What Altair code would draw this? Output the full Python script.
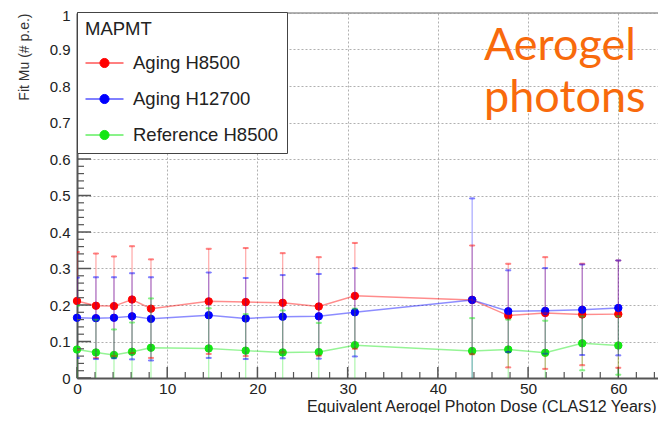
import altair as alt
import pandas as pd

# ---- data ----
dose = [0, 2.1, 4.1, 6.1, 8.2, 14.6, 18.7, 22.8, 26.8, 30.8, 43.8, 47.8, 51.9, 56.0, 60.0]

red_mu = [0.211, 0.198, 0.197, 0.215, 0.190, 0.210, 0.208, 0.206, 0.196, 0.225, 0.214, 0.171, 0.178, 0.174, 0.175]
red_err = [0.134, 0.143, 0.136, 0.146, 0.135, 0.144, 0.148, 0.136, 0.135, 0.145, 0.149, 0.142, 0.153, 0.139, 0.147]

blue_mu = [0.165, 0.164, 0.165, 0.169, 0.162, 0.172, 0.163, 0.168, 0.169, 0.180, 0.214, 0.183, 0.184, 0.187, 0.192]
blue_err = [0.110, 0.112, 0.111, 0.118, 0.114, 0.117, 0.111, 0.114, 0.116, 0.121, 0.278, 0.112, 0.117, 0.124, 0.130]

green_mu = [0.078, 0.070, 0.063, 0.072, 0.083, 0.081, 0.075, 0.070, 0.071, 0.090, 0.074, 0.078, 0.069, 0.095, 0.089]
green_err = [0.120, 0.090, 0.070, 0.080, 0.135, 0.110, 0.100, 0.115, 0.080, 0.100, 0.090, 0.082, 0.088, 0.074, 0.080]

series_names = ["Aging H8500", "Aging H12700", "Reference H8500"]
series_colors = ["#ff0000", "#0000ff", "#14e614"]

x_ticks = [0, 10, 20, 30, 40, 50, 60]
y_ticks = [0, 0.1, 0.2, 0.3, 0.4, 0.5, 0.6, 0.7, 0.8, 0.9, 1.0]
x_minor = [v for v in range(0, 66, 2) if v % 10 != 0]
y_minor = [round(i * 0.02, 2) for i in range(51) if i % 5 != 0]

legend_title = "MAPMT"
x_title = "Equivalent Aerogel Photon Dose (CLAS12 Years)"
y_title = "Fit Mu (# p.e.)"
note_lines = ["Aerogel", "photons"]

# ---- table ----
rows = []
for name, mus, errs in zip(series_names, [red_mu, blue_mu, green_mu], [red_err, blue_err, green_err]):
    for d, m, e in zip(dose, mus, errs):
        rows.append({"series": name, "dose": d, "mu": m, "lo": m - e, "hi": m + e})
df = pd.DataFrame(rows)

FONT = "Liberation Sans"
X_DOMAIN = [0, 64.4]
Y_DOMAIN = [0, 1]
PLOT_H = 365

xs = alt.Scale(domain=X_DOMAIN, nice=False, zero=False)
ys = alt.Scale(domain=Y_DOMAIN, nice=False, zero=False)
cs = alt.Scale(domain=series_names, range=series_colors)

legend = alt.Legend(
    title=legend_title,
    orient="none",
    legendX=0,
    legendY=-1,
    padding=8,
    strokeColor="#444444",
    fillColor="white",
    titleFont=FONT,
    titleFontSize=18.5,
    titleFontWeight="normal",
    titleColor="#222222",
    titlePadding=5,
    labelFont=FONT,
    labelFontSize=18.5,
    labelColor="#222222",
    labelOffset=9,
    rowPadding=7,
    symbolType="M-1,0L1,0M-0.24,0A0.24,0.24,0,1,1,0.24,0A0.24,0.24,0,1,1,-0.24,0Z",
    symbolSize=1444,
    symbolStrokeWidth=1,
    symbolOpacity=1,
)

x_axis = alt.Axis(
    values=x_ticks,
    title=x_title,
    titleFont=FONT,
    titleFontSize=16,
    titleFontWeight="normal",
    titleColor="#222222",
    titleX=579,
    titleY=33,
    titleAlign="right",
    titleBaseline="alphabetic",
    labelFont=FONT,
    labelFontSize=15.5,
    labelColor="#222222",
    labelPadding=3,
    labelFlush=False,
    ticks=False,
    domainColor="#555555",
    domainWidth=2,
    grid=True,
    gridColor="#b0b0b0",
    gridDash=[2, 2],
    gridWidth=1,
)
y_axis = alt.Axis(
    values=y_ticks,
    format=".1~f",
    title=y_title,
    titleFont=FONT,
    titleFontSize=14,
    titleFontWeight="normal",
    titleColor="#333333",
    titleAngle=270,
    titleAlign="right",
    titleBaseline="middle",
    titleX=-53,
    titleY=0,
    labelFont=FONT,
    labelFontSize=15,
    labelColor="#222222",
    labelPadding=7,
    labelOffset={"condition": {"test": "datum.value == 1", "value": 2.5}, "value": 0},
    labelOverlap=False,
    ticks=False,
    domainColor="#555555",
    domainWidth=2,
    grid=True,
    gridColor="#b0b0b0",
    gridDash=[2, 2],
    gridWidth=1,
)

base = alt.Chart(df)

bars = base.mark_rule(strokeWidth=1.2, opacity=0.35, clip=True).encode(
    x=alt.X("dose:Q", scale=xs, axis=x_axis),
    y=alt.Y("lo:Q", scale=ys, axis=y_axis),
    y2="hi:Q",
    stroke=alt.Stroke("series:N", scale=cs, legend=None, sort=series_names),
)
cap_hi = base.mark_tick(orient="horizontal", size=5, thickness=1, opacity=0.5, clip=True).encode(
    x=alt.X("dose:Q", scale=xs, axis=x_axis),
    y=alt.Y("hi:Q", scale=ys, axis=y_axis),
    stroke=alt.Stroke("series:N", scale=cs, legend=None, sort=series_names),
    fill=alt.Fill("series:N", scale=cs, legend=None, sort=series_names),
)
cap_lo = base.mark_tick(orient="horizontal", size=5, thickness=1, opacity=0.5, clip=True).encode(
    x=alt.X("dose:Q", scale=xs, axis=x_axis),
    y=alt.Y("lo:Q", scale=ys, axis=y_axis),
    stroke=alt.Stroke("series:N", scale=cs, legend=None, sort=series_names),
    fill=alt.Fill("series:N", scale=cs, legend=None, sort=series_names),
)
lines = base.mark_line(strokeWidth=1.5, opacity=0.45).encode(
    x=alt.X("dose:Q", scale=xs, axis=x_axis),
    y=alt.Y("mu:Q", scale=ys, axis=y_axis),
    stroke=alt.Stroke("series:N", scale=cs, legend=None, sort=series_names),
    detail="series:N",
)
points = base.mark_point(filled=True, size=55, opacity=1, strokeWidth=1).encode(
    x=alt.X("dose:Q", scale=xs, axis=x_axis),
    y=alt.Y("mu:Q", scale=ys, axis=y_axis),
    stroke=alt.Stroke("series:N", scale=cs, legend=legend, sort=series_names),
    fill=alt.Fill("series:N", scale=cs, legend=legend, sort=series_names),
)

# inward ticks (ROOT style)
ymaj = alt.Chart(pd.DataFrame({"v": y_ticks})).mark_rule(color="#555555", strokeWidth=1.5).encode(
    y=alt.Y("v:Q", scale=ys, axis=y_axis), x=alt.value(0), x2=alt.value(14))
ymin = alt.Chart(pd.DataFrame({"v": y_minor})).mark_rule(color="#555555", strokeWidth=1.2).encode(
    y=alt.Y("v:Q", scale=ys, axis=y_axis), x=alt.value(0), x2=alt.value(7))
xmaj = alt.Chart(pd.DataFrame({"v": x_ticks})).mark_rule(color="#555555", strokeWidth=1.5).encode(
    x=alt.X("v:Q", scale=xs, axis=x_axis), y=alt.value(PLOT_H), y2=alt.value(PLOT_H - 11))
xmin = alt.Chart(pd.DataFrame({"v": x_minor})).mark_rule(color="#555555", strokeWidth=1.2, clip=True).encode(
    x=alt.X("v:Q", scale=xs, axis=x_axis), y=alt.value(PLOT_H), y2=alt.value(PLOT_H - 6))
top_border = alt.Chart(pd.DataFrame({"v": [1.0]})).mark_rule(color="#999999", strokeWidth=1.5).encode(
    y=alt.Y("v:Q", scale=ys, axis=y_axis))

note = alt.Chart(pd.DataFrame({"v": [0]})).mark_text(
    text=note_lines, font="Lato", fontSize=45, color="#f86a0c", align="left",
    baseline="alphabetic", lineHeight=52,
).encode(x=alt.value(407), y=alt.value(47))

chart = alt.layer(
    points, top_border, ymin, ymaj, xmin, xmaj, bars, cap_hi, cap_lo, lines, note
).properties(
    width=581,
    height=PLOT_H,
    autosize=alt.AutoSizeParams(type="none"),
    padding={"left": 69, "top": 5, "right": 0, "bottom": 35},
).configure_view(stroke=None)

chart.save("out.html", embed_options={"renderer": "svg", "actions": False})
